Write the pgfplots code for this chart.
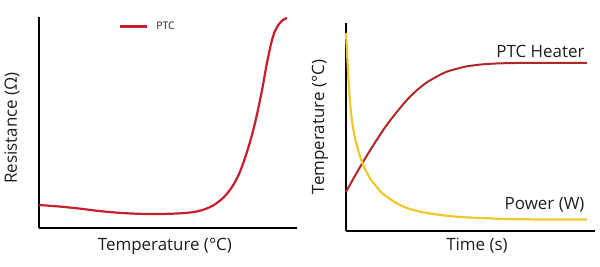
\documentclass[border=0pt]{standalone}
\usepackage{pgfplots}
\pgfplotsset{compat=1.18}
\usepackage{fontspec}
\setmainfont{Open Sans}
\definecolor{ptcred}{RGB}{200,30,45}
\definecolor{heatred}{RGB}{175,40,40}
\definecolor{pwryellow}{RGB}{240,200,45}
\definecolor{txt}{RGB}{30,30,30}
\begin{document}
\begin{tikzpicture}[x=1bp,y=1bp]
\path[use as bounding box] (0,0) rectangle (600,266);
\begin{axis}[
  at={(39bp,38bp)}, anchor=south west,
  scale only axis, width=258bp, height=211bp,
  xmin=0, xmax=258, ymin=0, ymax=211,
  axis lines=left,
  axis line style={-, line width=1.5bp, black},
  xtick=\empty, ytick=\empty,
  xlabel={Temperature (°C)}, ylabel={Resistance (Ω)},
  label style={font=\fontsize{17}{20}\selectfont, text=txt},
  xlabel style={at={(axis description cs:0.488,-0.085)}, anchor=center},
  ylabel style={at={(axis description cs:-0.105,0.474)}, anchor=center},
  legend style={at={(axis description cs:0.31,0.955)}, anchor=west, draw=none, fill=none,
    font=\fontsize{10.5}{12}\selectfont, inner sep=0pt, text=txt,
    /tikz/every odd column/.append style={column sep=6bp}},
  legend image code/.code={\draw[#1] (0bp,0bp) -- (27bp,0bp);},
  clip=false,
]
\addplot[ptcred, line width=2.2bp, smooth, tension=0.5] coordinates {
(0,23) (20,21.5) (40,19.5) (60,17) (80,15.2) (100,14.2) (120,14) (140,14.6)
(155,16) (165,18.5) (175,23) (185,31) (193,41) (200,54) (206,70) (211,86)
(216,105) (220,123) (224,143) (227,160) (230,175) (233,188) (236,197)
(240,204) (244,208) (248,210)
};
\addlegendentry{PTC}
\end{axis}
\begin{axis}[
  at={(346bp,35bp)}, anchor=south west,
  scale only axis, width=249bp, height=208bp,
  xmin=0, xmax=249, ymin=0, ymax=208,
  axis lines=left,
  axis line style={-, line width=1.5bp, black},
  xtick=\empty, ytick=\empty,
  xlabel={Time (s)}, ylabel={Temperature (°C)},
  label style={font=\fontsize{17}{20}\selectfont, text=txt},
  xlabel style={at={(axis description cs:0.526,-0.072)}, anchor=center},
  ylabel style={at={(axis description cs:-0.104,0.5)}, anchor=center},
  clip=false,
]
\addplot[heatred, line width=2bp, smooth, tension=0.5] coordinates {
(0,39) (10,57) (20,74) (30,90) (40,105) (50,118) (60,130) (70,140) (80,148)
(90,154) (100,159) (110,162) (120,164.5) (135,166.5) (150,167.5) (170,168)
(200,168) (241,168)
};
\addplot[pwryellow, line width=2.2bp, smooth, tension=0.5] coordinates {
(0,198) (1,180) (2,160) (3,143) (4,129) (6,110) (8,98) (10,89) (13,78) (16,69)
(20,60) (25,51) (30,45) (36,38) (44,32) (52,27) (61,23) (71,20) (81,18)
(95,16) (114,14) (135,13) (160,12) (200,11.5) (241,11.5)
};
\node[anchor=east, font=\fontsize{17}{20}\selectfont, text=txt] at (axis cs:242,180) {PTC Heater};
\node[anchor=east, font=\fontsize{17}{20}\selectfont, text=txt] at (axis cs:242,26) {Power (W)};
\end{axis}
\end{tikzpicture}
\end{document}
